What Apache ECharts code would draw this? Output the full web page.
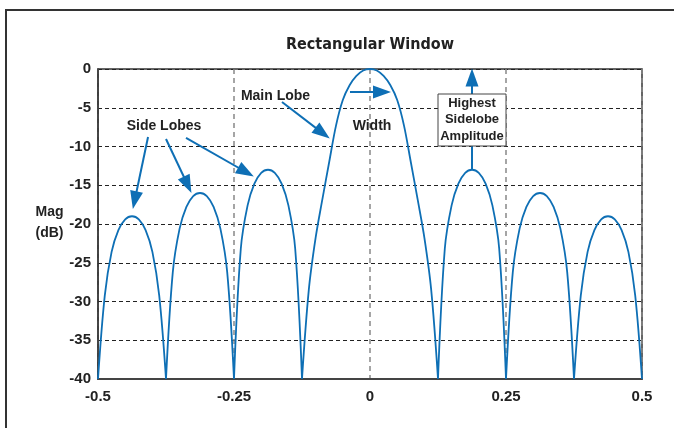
<!DOCTYPE html>
<html>
<head>
<meta charset="utf-8">
<title>Rectangular Window</title>
<script src="https://cdn.jsdelivr.net/npm/echarts@6.0.0/dist/echarts.min.js"></script>
<style>
  html, body { margin: 0; padding: 0; background: #fff; }
  #chart { width: 674px; height: 428px; }
</style>
</head>
<body>
<div id="chart"></div>
<script>
// axis ticks
var xTicks = [-0.5, -0.25, 0, 0.25, 0.5];
var yTicks = [-40, -35, -30, -25, -20, -15, -10, -5, 0];

// normalized frequency and magnitude (dB)
var freqs = [
  -0.5, -0.4875, -0.475, -0.4625, -0.45, -0.4375, -0.425, -0.4125, -0.4, -0.3875,
  -0.375, -0.3625, -0.35, -0.3375, -0.325, -0.3125, -0.3, -0.2875, -0.275, -0.2625,
  -0.25, -0.2375, -0.225, -0.2125, -0.2, -0.1875, -0.175, -0.1625, -0.15, -0.1375,
  -0.125, -0.1125, -0.1, -0.0875, -0.075, -0.0625, -0.05, -0.0375, -0.025, -0.0125,
  0,
  0.0125, 0.025, 0.0375, 0.05, 0.0625, 0.075, 0.0875, 0.1, 0.1125, 0.125,
  0.1375, 0.15, 0.1625, 0.175, 0.1875, 0.2, 0.2125, 0.225, 0.2375, 0.25,
  0.2625, 0.275, 0.2875, 0.3, 0.3125, 0.325, 0.3375, 0.35, 0.3625, 0.375,
  0.3875, 0.4, 0.4125, 0.425, 0.4375, 0.45, 0.4625, 0.475, 0.4875, 0.5
];
var magDb = [
  -40, -29.2, -23.6, -20.8, -19.4, -19.0, -19.4, -20.8, -23.6, -29.2,
  -40, -26.2, -20.6, -17.8, -16.4, -16.0, -16.4, -17.8, -20.6, -26.2,
  -40, -23.2, -17.6, -14.8, -13.4, -13.0, -13.4, -14.8, -17.6, -23.2,
  -40, -28.5, -21.8, -16.8, -12.0, -7.3, -4.0, -2.1, -0.9, -0.2,
  0,
  -0.2, -0.9, -2.1, -4.0, -7.3, -12.0, -16.8, -21.8, -28.5, -40,
  -23.2, -17.6, -14.8, -13.4, -13.0, -13.4, -14.8, -17.6, -23.2, -40,
  -26.2, -20.6, -17.8, -16.4, -16.0, -16.4, -17.8, -20.6, -26.2, -40,
  -29.2, -23.6, -20.8, -19.4, -19.0, -19.4, -20.8, -23.6, -29.2, -40
];

var blue = '#0e6fb5';
var ink = '#222';
var sans = '"Liberation Sans", Arial, sans-serif';
var floorDb = yTicks[0];

// break the line at every null so each lobe is smoothed on its own
// and the nulls stay sharp
var curve = [];
freqs.forEach(function (f, i) {
  curve.push([f, magDb[i]]);
  if (magDb[i] <= floorDb && i > 0 && i < freqs.length - 1) {
    curve.push([f, '-']);
    curve.push([f, magDb[i]]);
  }
});

function arrow(from, to) {
  return [{ coord: from }, { coord: to }];
}

function label(text, x, y, size, z) {
  return {
    type: 'text', x: x, y: y, z: z || 50, silent: true,
    style: {
      text: text, fill: ink, font: 'bold ' + size + 'px ' + sans,
      textAlign: 'center', textVerticalAlign: 'middle'
    }
  };
}

var myChart = echarts.init(document.getElementById('chart'));

var option = {
  animation: false,
  grid: {
    left: 98, right: 32, top: 69, bottom: 49,
    show: true, borderColor: '#333', borderWidth: 1.5
  },
  xAxis: {
    type: 'value',
    min: xTicks[0],
    max: xTicks[xTicks.length - 1],
    interval: xTicks[1] - xTicks[0],
    axisLine: { show: true, onZero: false, lineStyle: { color: '#444', width: 2 } },
    axisTick: { show: false },
    axisLabel: { color: ink, fontFamily: sans, fontWeight: 'bold', fontSize: 15, margin: 10 },
    splitLine: { lineStyle: { color: '#888', type: [5, 4], width: 1.5 } }
  },
  yAxis: {
    type: 'value',
    min: yTicks[0],
    max: yTicks[yTicks.length - 1],
    interval: yTicks[1] - yTicks[0],
    axisLine: { show: true, onZero: false, lineStyle: { color: '#333', width: 1.5 } },
    axisTick: { show: false },
    axisLabel: { color: ink, fontFamily: sans, fontWeight: 'bold', fontSize: 15, margin: 7 },
    splitLine: { lineStyle: { color: '#222', type: [4, 3], width: 1 } }
  },
  series: [{
    type: 'line',
    data: curve,
    symbol: 'none',
    smooth: 0.35,
    connectNulls: false,
    clip: true,
    lineStyle: { color: blue, width: 1.8 },
    markLine: {
      silent: true,
      symbol: ['none', 'triangle'],
      symbolSize: [13, 18],
      label: { show: false },
      lineStyle: { color: blue, width: 2, type: 'solid' },
      itemStyle: { color: blue },
      data: [
        arrow([-0.408, -8.77], [-0.4325, -16.93]),
        arrow([-0.375, -9.03], [-0.3353, -14.94]),
        arrow([-0.3382, -8.9], [-0.228, -13.29]),
        arrow([-0.1618, -4.26], [-0.0871, -8.27]),
        arrow([-0.0368, -2.97], [0.0221, -2.97]),
        arrow([0.1875, -13.0], [0.1875, -1.1])
      ]
    }
  }],
  graphic: [
    { type: 'rect', silent: true, shape: { x: 6, y: 10, width: 900, height: 600 },
      style: { fill: 'none', stroke: '#333', lineWidth: 2 } },
    { type: 'text', x: 370, y: 45, silent: true,
      style: { text: 'Rectangular Window', fill: ink, font: 'bold 16px "DejaVu Sans Condensed", sans-serif',
        textAlign: 'center', textVerticalAlign: 'middle' } },
    label('Mag', 49.5, 212, 14),
    label('(dB)', 49.5, 233, 14),
    label('Side Lobes', 164, 126, 14),
    label('Main Lobe', 275.5, 96, 14),
    label('Width', 372, 126, 14),
    { type: 'rect', z: 100, silent: true, shape: { x: 438, y: 94, width: 68, height: 52 },
      style: { fill: '#fff', stroke: '#444', lineWidth: 1 } },
    label('Highest', 472, 103.5, 13, 101),
    label('Sidelobe', 472, 119.5, 13, 101),
    label('Amplitude', 472, 136, 13, 101)
  ]
};

myChart.setOption(option);
</script>
</body>
</html>
